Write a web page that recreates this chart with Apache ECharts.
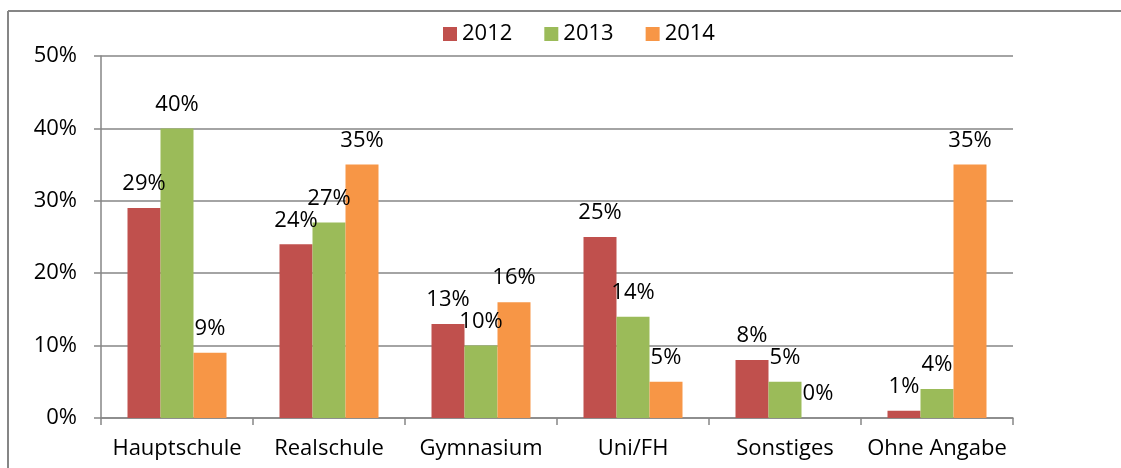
<!DOCTYPE html>
<html lang="de">
<head>
  <meta charset="UTF-8">
  <title>Schulabschluss</title>
  <script src="https://cdn.jsdelivr.net/npm/echarts@6/dist/echarts.min.js"></script>
  <style>
    html, body { margin: 0; padding: 0; background: #fff; }
    #chart { width: 1121px; height: 468px; }
  </style>
</head>
<body>
  <div id="chart"></div>
  <script>
    // Daten
    var categories = ['Hauptschule', 'Realschule', 'Gymnasium', 'Uni/FH', 'Sonstiges', 'Ohne Angabe'];
    var years = ['2012', '2013', '2014'];
    var v2012 = [29, 24, 13, 25, 8, 1];
    var v2013 = [40, 27, 10, 14, 5, 4];
    var v2014 = [9, 35, 16, 5, 0, 35];
    var yTicks = [0, 10, 20, 30, 40, 50];
    var colors = ['#C0504D', '#9BBB59', '#F79646'];

    var font = '"Open Sans", sans-serif';
    var fs = 22;
    var gray = '#868686';

    function bar(name, data, color) {
      return {
        name: name,
        type: 'bar',
        data: data,
        barWidth: 33,
        barGap: '0%',
        itemStyle: { color: color },
        label: {
          show: true,
          position: 'top',
          distance: 13,
          formatter: '{c}%',
          color: '#000',
          fontFamily: font,
          fontSize: fs
        }
      };
    }

    var chart = echarts.init(document.getElementById('chart'));
    chart.setOption({
      animation: false,
      color: colors,
      textStyle: { fontFamily: font },
      legend: {
        data: years,
        top: 18,
        left: 438,
        itemWidth: 14,
        itemHeight: 14,
        itemGap: 32,
        icon: 'rect',
        textStyle: { fontSize: fs, color: '#000', fontFamily: font }
      },
      grid: { left: 101, right: 108, top: 56, bottom: 50 },
      xAxis: {
        type: 'category',
        data: categories,
        axisLine: { lineStyle: { color: gray, width: 1.5 } },
        axisTick: { show: true, length: 7, lineStyle: { color: gray, width: 1.5 } },
        axisLabel: { color: '#000', fontSize: fs, margin: 20, interval: 0, fontFamily: font }
      },
      yAxis: {
        type: 'value',
        min: yTicks[0],
        max: yTicks[yTicks.length - 1],
        interval: 10,
        axisLine: { show: true, lineStyle: { color: gray, width: 1.5 } },
        axisTick: { show: true, length: 7, lineStyle: { color: gray, width: 1.5 } },
        splitLine: { lineStyle: { color: gray, width: 1.5 } },
        axisLabel: { color: '#000', fontSize: fs, margin: 24, fontFamily: font, formatter: '{value}%' }
      },
      graphic: [
        { type: 'line', shape: { x1: 8, y1: 11, x2: 1121, y2: 11 }, style: { stroke: gray, lineWidth: 2 } },
        { type: 'line', shape: { x1: 8, y1: 11, x2: 8, y2: 468 }, style: { stroke: gray, lineWidth: 2 } }
      ],
      series: [
        bar(years[0], v2012, colors[0]),
        bar(years[1], v2013, colors[1]),
        bar(years[2], v2014, colors[2])
      ]
    });
  </script>
</body>
</html>
